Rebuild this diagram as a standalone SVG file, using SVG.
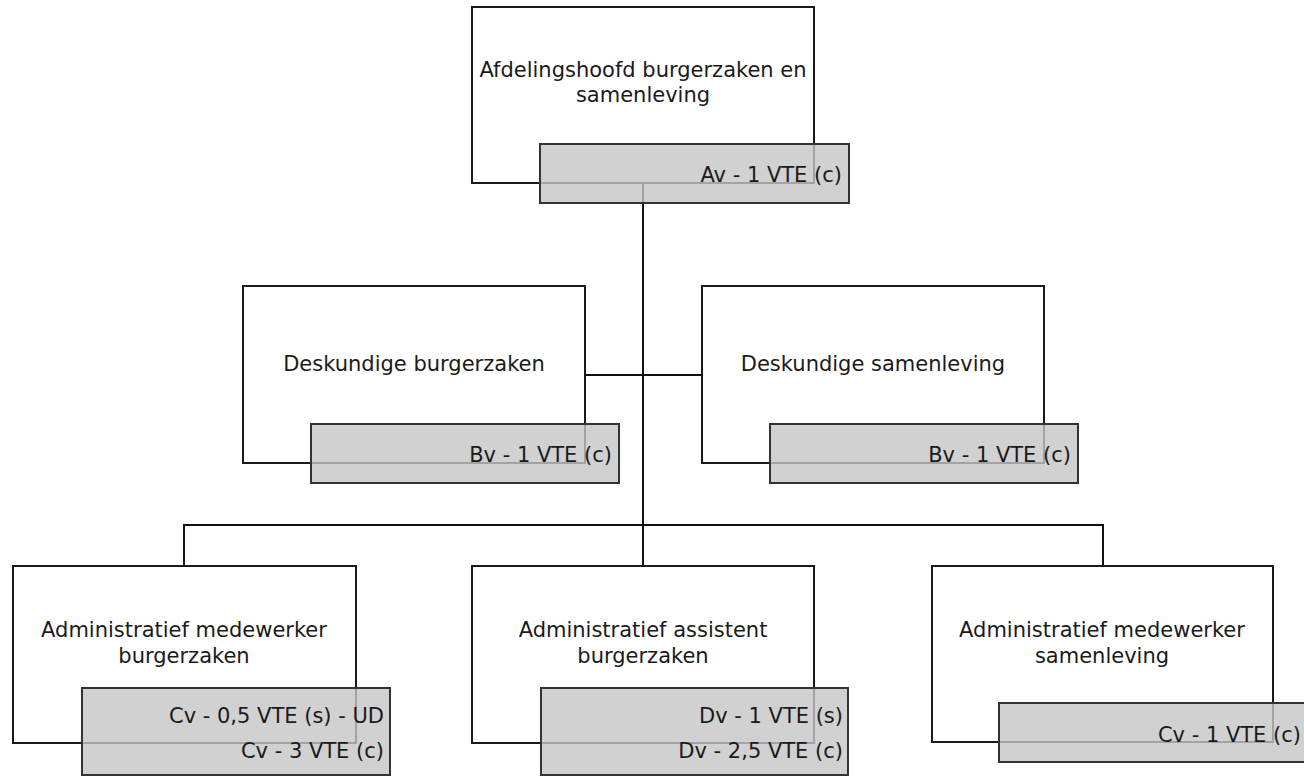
<svg xmlns="http://www.w3.org/2000/svg" width="1304" height="776" viewBox="0 0 1304 776">
  <style>
    .box { fill: #ffffff; stroke: #1a1a1a; stroke-width: 2; }
    .tag { fill: #c6c6c6; fill-opacity: 0.8; stroke: #333333; stroke-width: 2; }
    .title { font-family: "DejaVu Sans", "Liberation Sans", sans-serif; font-size: 21px; fill: #1a1a1a; text-anchor: middle; }
    .fte { font-family: "DejaVu Sans", "Liberation Sans", sans-serif; font-size: 21px; fill: #1a1a1a; text-anchor: end; }
    .link { fill: none; stroke: #111111; stroke-width: 2; }
  </style>
  <rect width="1304" height="776" fill="#ffffff"/>

  <g id="connectors">
    <path class="link" d="M643 183 V525"/>
    <path class="link" d="M585 375 H702"/>
    <path class="link" d="M184 566 V525 H1103 V566"/>
    <path class="link" d="M643 525 V566"/>
  </g>

  <g id="afdelingshoofd">
    <rect class="box" x="472" y="7" width="342" height="176"/>
    <rect class="tag" x="540" y="144" width="309" height="59"/>
    <text class="title" x="643" y="77">Afdelingshoofd burgerzaken en</text>
    <text class="title" x="643" y="102">samenleving</text>
    <text class="fte" x="842" y="182">Av - 1 VTE (c)</text>
  </g>

  <g id="deskundige-burgerzaken">
    <rect class="box" x="243" y="286" width="342" height="177"/>
    <rect class="tag" x="311" y="424" width="308" height="59"/>
    <text class="title" x="414" y="371">Deskundige burgerzaken</text>
    <text class="fte" x="612" y="462">Bv - 1 VTE (c)</text>
  </g>

  <g id="deskundige-samenleving">
    <rect class="box" x="702" y="286" width="342" height="177"/>
    <rect class="tag" x="770" y="424" width="308" height="59"/>
    <text class="title" x="873" y="371">Deskundige samenleving</text>
    <text class="fte" x="1071" y="462">Bv - 1 VTE (c)</text>
  </g>

  <g id="adm-medewerker-burgerzaken">
    <rect class="box" x="13" y="566" width="343" height="177"/>
    <rect class="tag" x="82" y="688" width="308" height="87"/>
    <text class="title" x="184" y="637">Administratief medewerker</text>
    <text class="title" x="184" y="663">burgerzaken</text>
    <text class="fte" x="384" y="723">Cv - 0,5 VTE (s) - UD</text>
    <text class="fte" x="384" y="758">Cv - 3 VTE (c)</text>
  </g>

  <g id="adm-assistent-burgerzaken">
    <rect class="box" x="472" y="566" width="342" height="177"/>
    <rect class="tag" x="541" y="688" width="307" height="87"/>
    <text class="title" x="643" y="637">Administratief assistent</text>
    <text class="title" x="643" y="663">burgerzaken</text>
    <text class="fte" x="843" y="723">Dv - 1 VTE (s)</text>
    <text class="fte" x="843" y="758">Dv - 2,5 VTE (c)</text>
  </g>

  <g id="adm-medewerker-samenleving">
    <rect class="box" x="932" y="566" width="341" height="176"/>
    <rect class="tag" x="999" y="703" width="309" height="59"/>
    <text class="title" x="1102" y="637">Administratief medewerker</text>
    <text class="title" x="1102" y="663">samenleving</text>
    <text class="fte" x="1301" y="742">Cv - 1 VTE (c)</text>
  </g>
</svg>
